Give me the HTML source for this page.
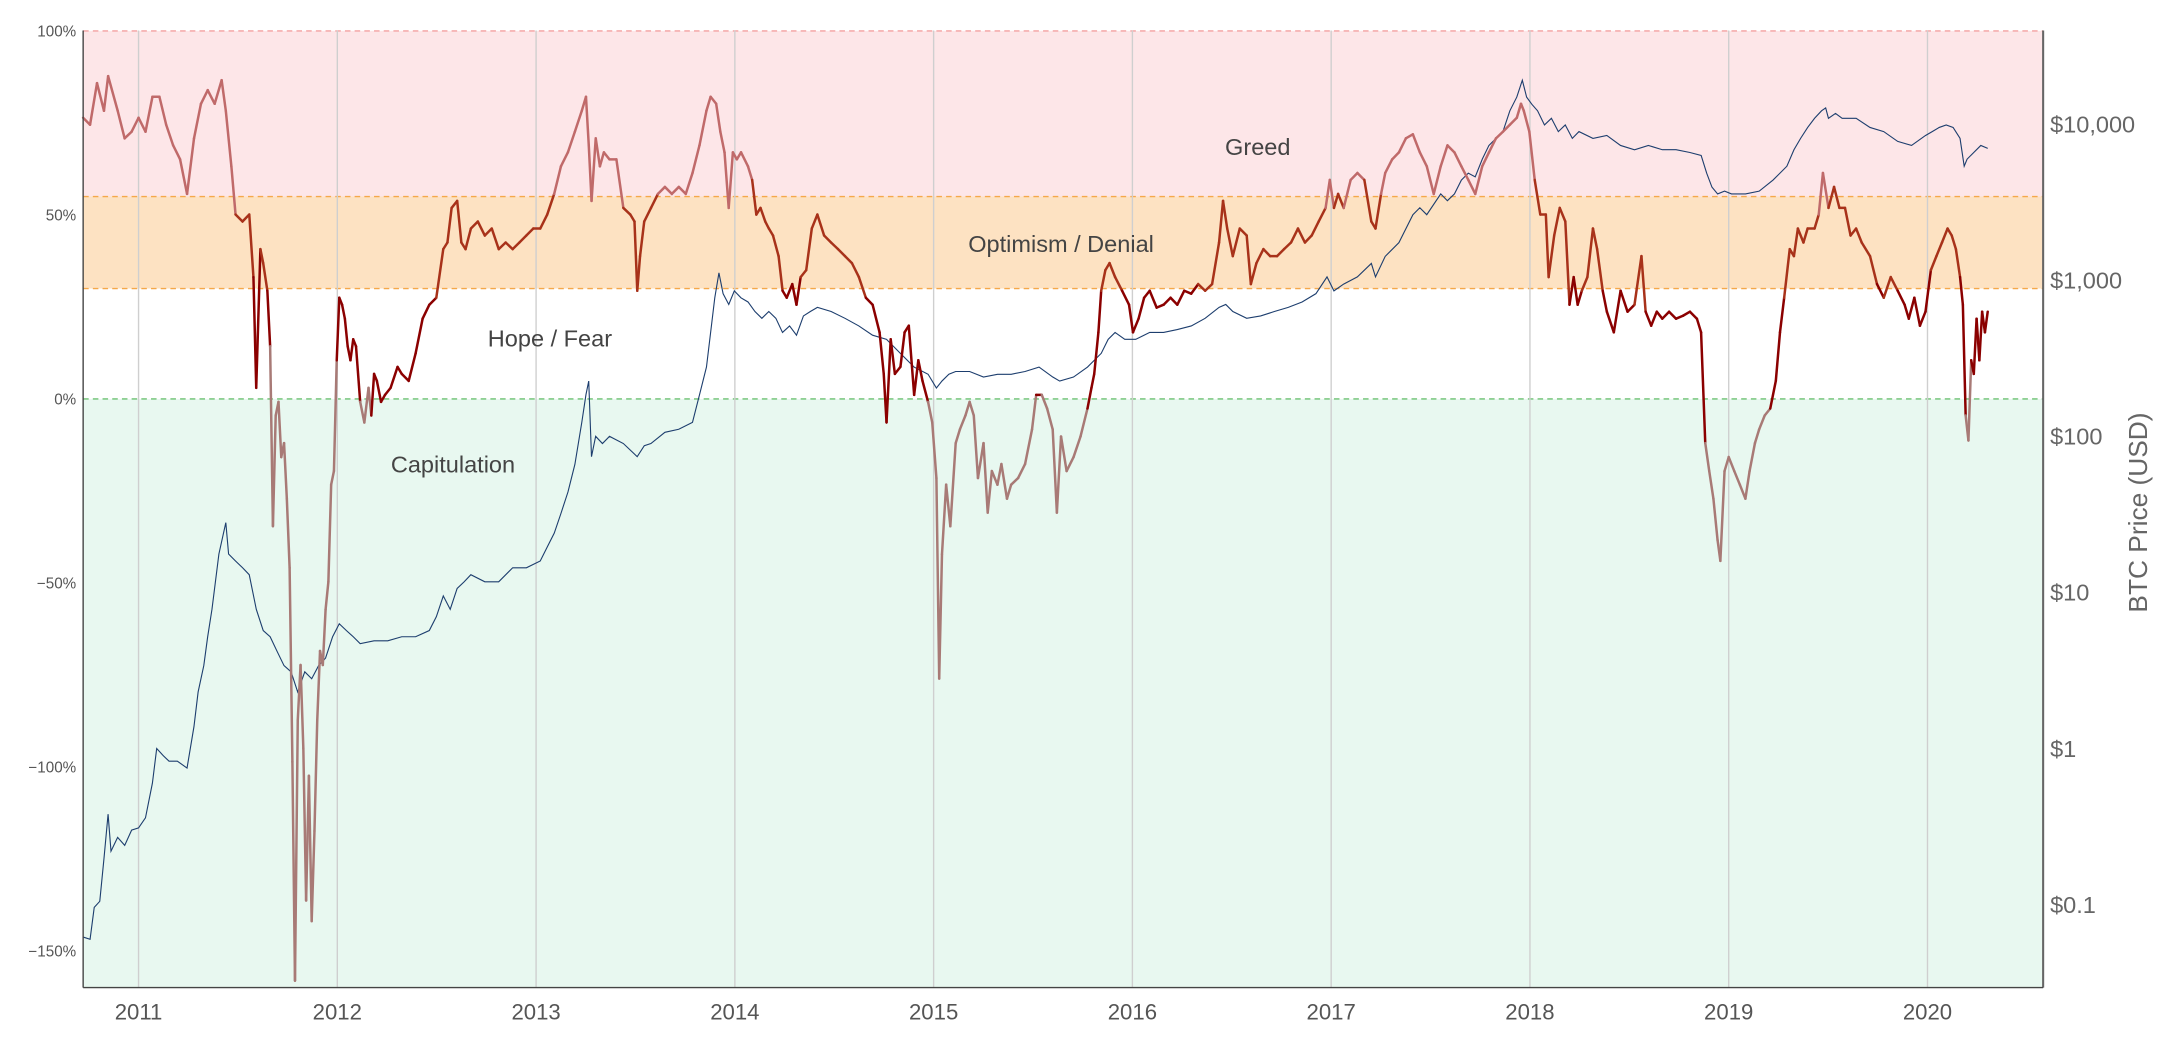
<!DOCTYPE html>
<html><head><meta charset="utf-8"><style>
html,body{margin:0;padding:0;background:#fff;}
svg{display:block;font-family:"Liberation Sans","DejaVu Sans",sans-serif;}
</style></head><body>
<svg id="chart" width="2172" height="1062" viewBox="0 0 1568 766.7" xmlns="http://www.w3.org/2000/svg">
<g id="bands"></g>
<g id="grid"></g>
<g id="ann"></g>
<g id="price"></g>
<g id="ratio"></g>
<g id="axes"></g>
</svg>
<script>
const ratioDates=[2010.721,2010.756,2010.791,2010.826,2010.847,2010.895,2010.930,2010.965,2011.000,2011.035,2011.070,2011.105,2011.139,2011.174,2011.209,2011.244,2011.279,2011.314,2011.348,2011.383,2011.418,2011.439,2011.467,2011.488,2011.523,2011.557,2011.578,2011.592,2011.613,2011.627,2011.648,2011.662,2011.676,2011.690,2011.704,2011.718,2011.732,2011.746,2011.760,2011.774,2011.787,2011.801,2011.815,2011.829,2011.843,2011.857,2011.871,2011.885,2011.899,2011.913,2011.927,2011.941,2011.955,2011.969,2011.983,2011.997,2012.010,2012.024,2012.038,2012.052,2012.066,2012.080,2012.094,2012.115,2012.136,2012.157,2012.171,2012.185,2012.199,2012.220,2012.240,2012.268,2012.303,2012.324,2012.359,2012.394,2012.429,2012.463,2012.498,2012.533,2012.554,2012.575,2012.603,2012.624,2012.645,2012.672,2012.707,2012.742,2012.777,2012.812,2012.847,2012.882,2012.916,2012.951,2012.986,2013.021,2013.056,2013.091,2013.125,2013.160,2013.195,2013.230,2013.251,2013.265,2013.279,2013.300,2013.321,2013.341,2013.369,2013.404,2013.439,2013.474,2013.495,2013.509,2013.523,2013.544,2013.578,2013.613,2013.648,2013.683,2013.718,2013.753,2013.787,2013.822,2013.857,2013.878,2013.906,2013.927,2013.948,2013.969,2013.990,2014.010,2014.031,2014.066,2014.087,2014.108,2014.129,2014.153,2014.171,2014.192,2014.220,2014.240,2014.261,2014.289,2014.310,2014.331,2014.359,2014.387,2014.415,2014.449,2014.484,2014.519,2014.554,2014.589,2014.624,2014.659,2014.693,2014.728,2014.749,2014.763,2014.784,2014.805,2014.833,2014.854,2014.875,2014.902,2014.923,2014.944,2014.972,2014.993,2015.014,2015.028,2015.042,2015.063,2015.084,2015.111,2015.132,2015.160,2015.181,2015.202,2015.223,2015.251,2015.272,2015.293,2015.321,2015.341,2015.369,2015.390,2015.425,2015.460,2015.495,2015.516,2015.544,2015.571,2015.599,2015.620,2015.641,2015.669,2015.704,2015.739,2015.774,2015.794,2015.808,2015.829,2015.843,2015.864,2015.885,2015.913,2015.948,2015.983,2016.003,2016.031,2016.059,2016.087,2016.122,2016.157,2016.192,2016.226,2016.261,2016.296,2016.331,2016.366,2016.401,2016.436,2016.456,2016.477,2016.505,2016.540,2016.575,2016.596,2016.624,2016.659,2016.693,2016.728,2016.763,2016.798,2016.833,2016.868,2016.902,2016.937,2016.972,2016.993,2017.014,2017.035,2017.063,2017.098,2017.132,2017.167,2017.202,2017.223,2017.251,2017.272,2017.307,2017.341,2017.376,2017.411,2017.446,2017.481,2017.516,2017.551,2017.585,2017.620,2017.655,2017.690,2017.725,2017.760,2017.794,2017.829,2017.864,2017.899,2017.934,2017.955,2017.969,2017.997,2018.024,2018.052,2018.080,2018.094,2018.122,2018.150,2018.178,2018.199,2018.220,2018.240,2018.261,2018.289,2018.317,2018.338,2018.366,2018.387,2018.422,2018.456,2018.491,2018.526,2018.561,2018.582,2018.610,2018.638,2018.666,2018.700,2018.735,2018.770,2018.805,2018.840,2018.861,2018.882,2018.902,2018.923,2018.944,2018.958,2018.979,2019.000,2019.028,2019.056,2019.084,2019.105,2019.132,2019.153,2019.181,2019.209,2019.237,2019.258,2019.279,2019.307,2019.328,2019.348,2019.376,2019.397,2019.432,2019.453,2019.474,2019.502,2019.530,2019.557,2019.585,2019.613,2019.641,2019.669,2019.711,2019.746,2019.780,2019.815,2019.850,2019.885,2019.906,2019.934,2019.962,2019.990,2020.017,2020.045,2020.073,2020.101,2020.122,2020.143,2020.164,2020.178,2020.192,2020.206,2020.220,2020.233,2020.247,2020.261,2020.275,2020.289,2020.303];
const ratioValues=[76.4,74.5,85.8,78.3,87.7,78.3,70.8,72.6,76.4,72.6,82.1,82.1,74.5,68.9,65.1,55.7,70.8,80.2,83.9,80.2,86.6,78.3,63.2,50.1,48.2,50.1,33.1,3.0,40.7,36.9,29.4,14.3,-34.6,-4.5,-0.8,-15.8,-12.0,-27.1,-45.9,-98.6,-158.1,-87.3,-72.3,-94.9,-136.3,-102.4,-141.9,-117.4,-87.3,-68.5,-72.3,-57.2,-49.7,-23.3,-19.6,10.5,27.5,25.6,21.8,14.3,10.5,16.2,14.3,-0.8,-6.4,3.0,-4.5,6.8,4.9,-0.8,1.1,3.0,8.7,6.8,4.9,12.4,21.8,25.6,27.5,40.7,42.5,51.9,53.8,42.5,40.7,46.3,48.2,44.4,46.3,40.7,42.5,40.7,42.5,44.4,46.3,46.3,50.1,55.7,63.2,67.0,72.6,78.3,82.1,68.9,53.8,70.8,63.2,67.0,65.1,65.1,51.9,50.1,48.2,29.4,38.8,48.2,51.9,55.7,57.6,55.7,57.6,55.7,61.4,68.9,78.3,82.1,80.2,72.6,67.0,51.9,67.0,65.1,67.0,63.2,59.5,50.1,51.9,48.2,46.3,44.4,38.8,29.4,27.5,31.2,25.6,33.1,35.0,46.3,50.1,44.4,42.5,40.7,38.8,36.9,33.1,27.5,25.6,18.1,6.8,-6.4,16.2,6.8,8.7,18.1,19.9,1.1,10.5,4.9,-0.8,-6.4,-21.5,-76.0,-42.2,-23.3,-34.6,-12.0,-8.3,-4.5,-0.8,-4.5,-21.5,-12.0,-30.9,-19.6,-23.3,-17.7,-27.1,-23.3,-21.5,-17.7,-8.3,1.1,1.1,-2.6,-8.3,-30.9,-10.2,-19.6,-15.8,-10.2,-2.6,3.0,6.8,18.1,29.4,35.0,36.9,33.1,29.4,25.6,18.1,21.8,27.5,29.4,24.8,25.6,27.5,25.6,29.4,28.6,31.2,29.4,31.2,42.5,53.8,46.3,38.8,46.3,44.4,31.2,36.9,40.7,38.8,38.8,40.7,42.5,46.3,42.5,44.4,48.2,51.9,59.5,51.9,55.7,51.9,59.5,61.4,59.5,48.2,46.3,55.7,61.4,65.1,67.0,70.8,71.9,67.0,63.2,55.7,63.2,68.9,67.0,63.2,59.5,55.7,63.2,67.0,70.8,72.6,74.5,76.4,80.2,78.3,72.6,59.5,50.1,50.1,33.1,44.4,51.9,48.2,25.6,33.1,25.6,29.4,33.1,46.3,40.7,29.4,23.7,18.1,29.4,23.7,25.6,38.8,23.7,19.9,23.7,21.8,23.7,21.8,22.6,23.7,21.8,18.1,-12.0,-19.6,-27.1,-38.4,-44.0,-19.6,-15.8,-19.6,-23.3,-27.1,-19.6,-12.0,-8.3,-4.5,-2.6,4.9,18.1,27.5,40.7,38.8,46.3,42.5,46.3,46.3,50.1,61.4,51.9,57.6,51.9,51.9,44.4,46.3,42.5,38.8,31.2,27.5,33.1,29.4,25.6,21.8,27.5,19.9,23.7,35.0,38.8,42.5,46.3,44.4,40.7,33.1,25.6,-4.5,-11.3,10.5,6.8,21.8,10.5,23.7,18.1,23.7];
const priceDates=[2010.721,2010.756,2010.777,2010.805,2010.826,2010.847,2010.861,2010.895,2010.930,2010.965,2011.000,2011.035,2011.070,2011.091,2011.125,2011.153,2011.195,2011.244,2011.279,2011.300,2011.328,2011.348,2011.369,2011.404,2011.439,2011.453,2011.488,2011.523,2011.557,2011.592,2011.627,2011.662,2011.697,2011.732,2011.767,2011.801,2011.836,2011.871,2011.906,2011.941,2011.976,2012.010,2012.045,2012.080,2012.115,2012.185,2012.254,2012.324,2012.394,2012.463,2012.498,2012.533,2012.568,2012.603,2012.638,2012.672,2012.742,2012.812,2012.882,2012.951,2013.021,2013.056,2013.091,2013.125,2013.160,2013.195,2013.230,2013.251,2013.265,2013.279,2013.300,2013.334,2013.369,2013.439,2013.509,2013.544,2013.578,2013.648,2013.718,2013.787,2013.822,2013.857,2013.878,2013.899,2013.920,2013.941,2013.969,2013.997,2014.031,2014.066,2014.101,2014.136,2014.171,2014.206,2014.240,2014.275,2014.310,2014.345,2014.380,2014.415,2014.484,2014.554,2014.624,2014.693,2014.763,2014.833,2014.902,2014.972,2015.014,2015.042,2015.077,2015.111,2015.181,2015.251,2015.321,2015.390,2015.460,2015.530,2015.599,2015.634,2015.704,2015.774,2015.843,2015.878,2015.913,2015.962,2016.017,2016.087,2016.157,2016.226,2016.296,2016.366,2016.436,2016.470,2016.505,2016.575,2016.645,2016.714,2016.784,2016.854,2016.923,2016.979,2017.014,2017.063,2017.132,2017.202,2017.223,2017.272,2017.341,2017.411,2017.446,2017.481,2017.551,2017.585,2017.620,2017.655,2017.690,2017.725,2017.760,2017.794,2017.829,2017.864,2017.899,2017.934,2017.962,2017.983,2018.010,2018.038,2018.073,2018.108,2018.143,2018.178,2018.213,2018.247,2018.317,2018.387,2018.456,2018.526,2018.596,2018.666,2018.735,2018.805,2018.861,2018.889,2018.916,2018.944,2018.979,2019.014,2019.084,2019.153,2019.223,2019.293,2019.328,2019.362,2019.397,2019.432,2019.467,2019.488,2019.502,2019.537,2019.571,2019.641,2019.711,2019.780,2019.850,2019.920,2019.990,2020.024,2020.059,2020.094,2020.129,2020.164,2020.185,2020.199,2020.233,2020.268,2020.303];
const priceValues=[0.062,0.06,0.096,0.105,0.196,0.38,0.22,0.27,0.24,0.3,0.31,0.36,0.6,1.0,0.9,0.83,0.83,0.75,1.38,2.3,3.4,5.2,7.8,17.6,28,17.6,15.9,14.4,13,7.8,5.7,5.2,4.2,3.4,3.1,2.3,3.1,2.8,3.4,3.8,5.2,6.3,5.7,5.2,4.7,4.9,4.9,5.2,5.2,5.7,7.0,9.5,7.8,10.6,11.7,13,11.7,11.7,14.4,14.4,15.9,19.5,24,32,44,66,123,185,226,74,100,90,100,90,74,87,90,106,111,123,185,278,463,771,1114,820,700,855,771,725,630,570,630,570,463,510,444,590,630,670,630,570,510,444,418,340,278,250,204,226,250,260,260,240,250,250,260,278,240,226,240,278,340,418,463,418,418,463,463,483,510,570,670,700,630,570,590,630,670,725,820,1050,855,945,1050,1280,1050,1420,1740,2630,2910,2630,3570,3230,3570,4380,4850,4590,5960,7300,8100,8950,12160,14900,19100,14900,13400,12160,9880,10900,8950,9880,8100,8950,8100,8450,7300,6850,7300,6850,6850,6580,6300,4850,3950,3570,3720,3570,3570,3720,4380,5370,6850,8100,9530,10900,12160,12700,10900,11700,10900,10900,9530,8950,7750,7300,8450,8950,9530,9880,9530,8100,5370,5960,6580,7300,7000];
const yearTicks=[2011,2012,2013,2014,2015,2016,2017,2018,2019,2020];
const pctTicks=[100,50,0,-50,-100,-150];
const priceTicks=[0.1,1,10,100,1000,10000];
const priceTickLabels=["$0.1","$1","$10","$100","$1,000","$10,000"];
const zoneLabels=["Greed","Optimism / Denial","Hope / Fear","Capitulation"];

const NS="http://www.w3.org/2000/svg";
const L=60,R=1475,T=22,B=713;
const xS=t=>100+(t-2011)*143.5;
const yP=v=>288-v*2.657;
const yL=p=>315-(Math.log10(p)-2)*112.7;
function mk(tag,attrs,parent,text){const e=document.createElementNS(NS,tag);for(const k in attrs)e.setAttribute(k,attrs[k]);if(text!==undefined)e.textContent=text;parent.appendChild(e);return e;}
const bands=document.getElementById('bands');
let r;
r=mk('rect',{x:L,y:yP(100),width:R-L,height:yP(55)-yP(100),fill:'#fde6e8'},bands);


r=mk('rect',{x:L,y:yP(55),width:R-L,height:yP(30)-yP(55),fill:'#fde2c2'},bands);


r=mk('rect',{x:L,y:yP(0),width:R-L,height:B-yP(0),fill:'#e8f8f0'},bands);


const dl=[[100,'#f4a0a0'],[55,'#f5a84a'],[30,'#f5a84a'],[0,'#6cc070']];
dl.forEach(d=>{const l=mk('line',{x1:L,x2:R,y1:yP(d[0]),y2:yP(d[0]),stroke:d[1],'stroke-width':1,'stroke-dasharray':'4,3'},bands);

});
const grid=document.getElementById('grid'),axes=document.getElementById('axes');
yearTicks.forEach(y=>{const g=mk('line',{x1:xS(y),x2:xS(y),y1:T,y2:B,stroke:'#cfcfcf','stroke-width':1},grid);


const t=mk('text',{x:xS(y),y:B+23,'text-anchor':'middle','font-size':16,fill:'#555'},axes,String(y));

});
pctTicks.forEach(v=>{const t=mk('text',{x:L-5,y:yP(v)+4,'text-anchor':'end','font-size':11,fill:'#555'},axes,(v<0?'\u2212'+(-v):v)+'%');

});
priceTicks.forEach((p,i)=>{const t=mk('text',{x:R+5,y:yL(p)+6,'font-size':17,fill:'#666'},axes,priceTickLabels[i]);

});
let a=mk('line',{x1:L,x2:L,y1:T,y2:B,stroke:'#444','stroke-width':1},axes);


a=mk('line',{x1:R,x2:R,y1:T,y2:B,stroke:'#666','stroke-width':1.5},axes);


a=mk('line',{x1:L,x2:R,y1:B,y2:B,stroke:'#444','stroke-width':1},axes);


a=mk('text',{x:1550,y:370,'text-anchor':'middle','font-size':19,fill:'#666',transform:'rotate(-90 1550 370)'},axes,'BTC Price (USD)');


const ann=document.getElementById('ann');
const annPos=[[908,112],[766,182],[397,250],[327,341]];
zoneLabels.forEach((s,i)=>{const t=mk('text',{x:annPos[i][0],y:annPos[i][1],'text-anchor':'middle','font-size':17,fill:'#444'},ann,s);

});
const price=document.getElementById('price');
const pp=mk('path',{d:priceDates.map((t,i)=>(i?'L':'M')+xS(t).toFixed(1)+' '+yL(priceValues[i]).toFixed(1)).join(''),fill:'none',stroke:'#1d3e6e','stroke-width':0.8},price);


const ratio=document.getElementById('ratio');
function col(v){return v>55?'#c06a6a':v>30?'#a8321a':v>=0?'#8b0000':'#a87a76';}
for(let i=1;i<ratioDates.length;i++){const v=(ratioValues[i]+ratioValues[i-1])/2;
const s=mk('line',{x1:xS(ratioDates[i-1]),y1:yP(ratioValues[i-1]),x2:xS(ratioDates[i]),y2:yP(ratioValues[i]),stroke:col(v),'stroke-width':1.8,'stroke-linecap':'round'},ratio);

}
</script>
</body></html>
